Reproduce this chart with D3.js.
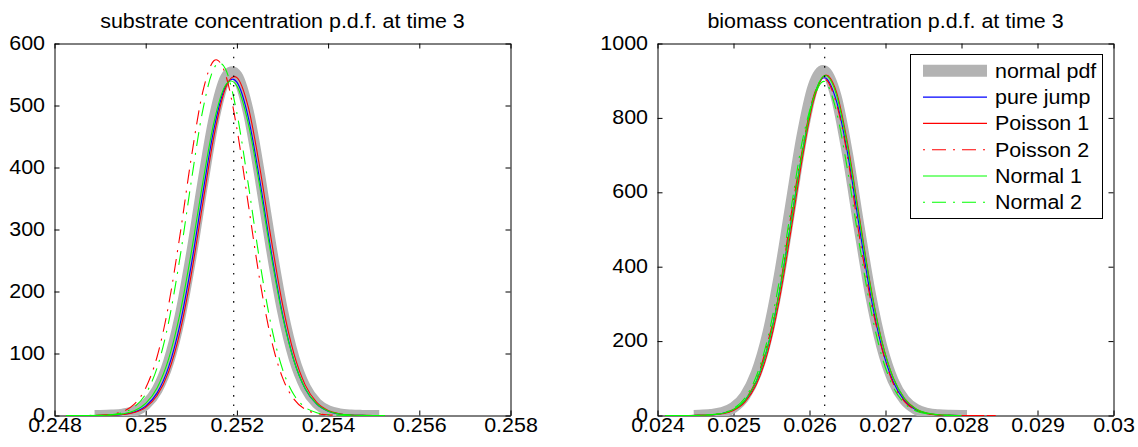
<!DOCTYPE html>
<html>
<head>
<meta charset="utf-8">
<script src="https://cdn.jsdelivr.net/npm/d3@7"></script>
<style>
  html, body { margin: 0; padding: 0; background: #fff; }
  svg { display: block; }
  text { font-family: "Liberation Sans", Arial, Helvetica, sans-serif; font-size: 19.5px; fill: #000; }
</style>
</head>
<body>
<svg id="chart" width="1138" height="447"></svg>
<script>
// ---- substrate concentration: density estimates at time 3 ----
const subX = [0.24825, 0.2485, 0.24875, 0.249, 0.24925, 0.2495, 0.24975, 0.25, 0.25025, 0.2505,
  0.25075, 0.251, 0.25125, 0.2515, 0.25175, 0.252, 0.25225, 0.2525, 0.25275, 0.253,
  0.25325, 0.2535, 0.25375, 0.254, 0.25425, 0.2545, 0.25475, 0.255, 0.25525];
const subNormalPdf = [null, null, null, 0.2, 0.7, 2.2, 6.7, 17.7, 41.5, 86.0, 158.5, 258.5, 373.9, 479.3,
  544.6, 548.6, 489.8, 387.6, 272.0, 169.1, 93.2, 45.6, 19.7, 7.6, 2.6, 0.8, 0.2, 0.0, null];
const subPureJump = [null, 0, 0, 0.1, 0.5, 1.8, 5.5, 15.1, 36.5, 77.7, 146.2, 243.0, 357.1, 463.3,
  531.0, 537.6, 480.9, 380.0, 265.2, 163.5, 89.1, 42.8, 18.2, 6.8, 2.3, 0.7, 0.2, 0, null];
const subPoisson1 = [null, null, 0, 0.1, 0.4, 1.5, 4.7, 13.1, 32.2, 69.9, 134.2, 227.7, 341.1, 451.4,
  527.7, 545.0, 497.3, 400.8, 285.3, 179.5, 99.7, 49.0, 21.2, 8.1, 2.8, 0.8, 0.2, 0, 0];
const subPoisson2 = [0, 0, 0.1, 0.6, 2.0, 6.5, 18.2, 44.4, 94.8, 177.3, 290.2, 415.8, 521.5, 572.5,
  550.1, 462.6, 340.6, 219.4, 123.7, 61.1, 26.4, 10.0, 3.3, 1.0, 0.2, null, null, null, null];
const subNormal1 = [0, 0, 0, 0.2, 0.8, 2.6, 7.5, 19.4, 44.5, 90.6, 163.7, 262.9, 374.7, 474.1,
  532.6, 531.4, 470.7, 370.2, 258.5, 160.2, 88.3, 43.1, 18.7, 7.2, 2.5, 0.8, 0.2, 0, 0];
const subNormal2 = [null, 0, 0.1, 0.4, 1.4, 4.7, 13.7, 34.7, 77.0, 149.5, 254.0, 377.8, 491.8, 560.4,
  558.9, 487.8, 372.8, 249.3, 145.9, 74.7, 33.5, 13.1, 4.5, 1.4, 0.4, 0.1, null, null, null];
const subMean = 0.25193;

// ---- biomass concentration: density estimates at time 3 ----
const bioX = [0.0241, 0.02425, 0.0244, 0.02455, 0.0247, 0.02485, 0.025, 0.02515, 0.0253, 0.02545,
  0.0256, 0.02575, 0.0259, 0.02605, 0.0262, 0.02635, 0.0265, 0.02665, 0.0268, 0.02695,
  0.0271, 0.02725, 0.0274, 0.02755, 0.0277, 0.02785, 0.028, 0.02815, 0.0283, 0.02845, 0.0286];
const bioNormalPdf = [null, null, null, 0.7, 2.5, 7.8, 21.5, 52.6, 114.2, 219.4, 373.1, 562.3, 749.9,
  885.6, 926.0, 857.4, 702.8, 510.1, 327.8, 186.6, 93.9, 41.9, 16.6, 5.8, 1.8, 0.5, 0.1,
  null, null, null, null];
const bioPureJump = [null, 0, 0.1, 0.4, 1.5, 5.2, 15.3, 39.9, 91.4, 184.4, 327.3, 511.5, 699.8,
  851.9, 908.0, 848.5, 706.1, 514.0, 327.3, 184.4, 91.4, 39.9, 15.3, 5.2, 1.5, 0.4, 0.1, 0,
  null, null, null];
const bioPoisson1 = [null, null, 0, 0.3, 1.3, 4.5, 13.5, 35.7, 83.1, 170.4, 307.6, 489.3, 684.4,
  843.1, 914.0, 872.2, 732.6, 541.8, 352.6, 202.0, 101.9, 45.2, 17.7, 6.1, 1.8, 0.5, 0.1, 0, 0,
  null, null];
const bioPoisson2 = [0, 0, 0.1, 0.4, 1.7, 5.6, 16.3, 42.2, 95.9, 196.0, 330.0, 530.0, 708.0,
  856.0, 904.7, 841.6, 697.0, 490.0, 315.2, 182.0, 86.5, 37.4, 14.3, 4.8, 1.4, 0.4, 0.1, 0, 0, 0,
  null];
const bioNormal1 = [0, 0, 0.1, 0.4, 1.7, 5.5, 15.9, 40.8, 92.4, 184.7, 326.3, 508.9, 700.8,
  851.5, 913.7, 865.7, 724.2, 535.0, 348.7, 200.7, 102.0, 45.8, 18.1, 6.3, 2.0, 0.5, 0.1,
  null, null, null, null];
const bioNormal2 = [null, 0, 0.1, 0.5, 2.0, 6.4, 18.6, 47.1, 105.4, 207.2, 358.3, 545.9, 732.0,
  850.0, 897.7, 821.1, 660.9, 468.4, 292.2, 160.5, 77.6, 33.0, 12.4, 4.1, 1.2, 0.3, 0.1,
  null, null, null, null];
const bioMean = 0.0262;

// ---- axis ticks and labels ----
const subXTicks = [0.248, 0.25, 0.252, 0.254, 0.256, 0.258];
const subXTickLabels = ["0.248", "0.25", "0.252", "0.254", "0.256", "0.258"];
const subYTicks = [0, 100, 200, 300, 400, 500, 600];
const subYTickLabels = ["0", "100", "200", "300", "400", "500", "600"];
const bioXTicks = [0.024, 0.025, 0.026, 0.027, 0.028, 0.029, 0.03];
const bioXTickLabels = ["0.024", "0.025", "0.026", "0.027", "0.028", "0.029", "0.03"];
const bioYTicks = [0, 200, 400, 600, 800, 1000];
const bioYTickLabels = ["0", "200", "400", "600", "800", "1000"];

const seriesNames = ["normal pdf", "pure jump", "Poisson 1", "Poisson 2", "Normal 1", "Normal 2"];

// ---- styling ----
const TEXT_SX = 1.1;            // horizontal stretch of the Helvetica-like text
const DASH_DOT = "14,7,2,7";
const seriesStyle = [
  { color: "#b3b3b3", width: 11, dash: null, cap: "square" },
  { color: "#0000ff", width: 1.1, dash: null, cap: "butt" },
  { color: "#ff0000", width: 1.1, dash: null, cap: "butt" },
  { color: "#ff0000", width: 1.1, dash: DASH_DOT, cap: "butt" },
  { color: "#00ff00", width: 1.1, dash: null, cap: "butt" },
  { color: "#00ff00", width: 1.1, dash: DASH_DOT, cap: "butt" }
];

const svg = d3.select("#chart");
const defs = svg.append("defs");

function stretchText(sel, dx, dy) {
  sel.attr("x", 0).attr("y", 0).attr("dy", null)
     .attr("transform", `translate(${dx},${dy}) scale(${TEXT_SX},1)`);
}

function drawPanel(cfg) {
  const { left, right, top, bottom } = cfg.box;
  const x = d3.scaleLinear().domain(cfg.xDomain).range([left + 0.5, right + 0.5]);
  const y = d3.scaleLinear().domain(cfg.yDomain).range([bottom + 0.5, top + 0.5]);
  const g = svg.append("g");

  // title
  g.append("text")
    .attr("text-anchor", "middle")
    .attr("transform", `translate(${(left + right) / 2 + 0.5},27.5) scale(${TEXT_SX},1)`)
    .text(cfg.title);

  const xFmt = d => cfg.xLabels[cfg.xTicks.indexOf(d)];
  const yFmt = d => cfg.yLabels[cfg.yTicks.indexOf(d)];

  // box axes with inward ticks on all four sides
  const ax = [
    g.append("g").attr("transform", `translate(0,${bottom + 0.5})`)
      .call(d3.axisBottom(x).tickValues(cfg.xTicks).tickSize(-5).tickSizeOuter(0).tickFormat(xFmt)),
    g.append("g").attr("transform", `translate(0,${top + 0.5})`)
      .call(d3.axisTop(x).tickValues(cfg.xTicks).tickSize(-5).tickSizeOuter(0).tickFormat(() => "")),
    g.append("g").attr("transform", `translate(${left + 0.5},0)`)
      .call(d3.axisLeft(y).tickValues(cfg.yTicks).tickSize(-5).tickSizeOuter(0).tickFormat(yFmt)),
    g.append("g").attr("transform", `translate(${right + 0.5},0)`)
      .call(d3.axisRight(y).tickValues(cfg.yTicks).tickSize(-5).tickSizeOuter(0).tickFormat(() => ""))
  ];
  ax.forEach(a => {
    a.attr("font-size", null).attr("font-family", null);
    a.selectAll("path.domain").attr("stroke", "#000").attr("stroke-width", 1);
    a.selectAll(".tick line").attr("stroke", "#000").attr("stroke-width", 1);
  });
  ax[0].selectAll(".tick text").call(stretchText, 0, 16.5);
  ax[2].selectAll(".tick text").attr("text-anchor", "end").call(stretchText, -9.5, 5.5);

  // curves
  const clipId = "clip-" + cfg.id;
  defs.append("clipPath").attr("id", clipId)
    .append("rect").attr("x", left + 0.5).attr("y", top + 0.5)
    .attr("width", right - left).attr("height", bottom - top + 0.5);

  const line = d3.line()
    .defined(d => d[1] != null)
    .x(d => x(d[0]))
    .y(d => y(d[1]))
    .curve(d3.curveCardinal.tension(0));

  const plot = g.append("g").attr("clip-path", `url(#${clipId})`);
  cfg.series.forEach((vals, i) => {
    const st = seriesStyle[i];
    const pts = cfg.xs.map((xv, j) => [xv, vals[j]]);
    plot.append("path")
      .attr("d", line(pts))
      .attr("fill", "none")
      .attr("stroke", st.color)
      .attr("stroke-width", st.width)
      .attr("stroke-linecap", st.cap)
      .attr("stroke-linejoin", "round")
      .attr("stroke-dasharray", st.dash);
  });

  // dotted marker at the mean
  plot.append("line")
    .attr("x1", x(cfg.mean)).attr("x2", x(cfg.mean))
    .attr("y1", y(cfg.yDomain[0])).attr("y2", y(cfg.yDomain[1]))
    .attr("stroke", "#000").attr("stroke-width", 1.2)
    .attr("stroke-dasharray", "1.6,7.8");

  return { g, x, y };
}

drawPanel({
  id: "sub",
  box: { left: 54, right: 510, top: 43, bottom: 415 },
  xDomain: [0.248, 0.258], yDomain: [0, 600],
  xTicks: subXTicks, xLabels: subXTickLabels,
  yTicks: subYTicks, yLabels: subYTickLabels,
  title: "substrate concentration p.d.f. at time 3",
  xs: subX,
  series: [subNormalPdf, subPureJump, subPoisson1, subPoisson2, subNormal1, subNormal2],
  mean: subMean
});

drawPanel({
  id: "bio",
  box: { left: 657, right: 1113, top: 43, bottom: 415 },
  xDomain: [0.024, 0.03], yDomain: [0, 1000],
  xTicks: bioXTicks, xLabels: bioXTickLabels,
  yTicks: bioYTicks, yLabels: bioYTickLabels,
  title: "biomass concentration p.d.f. at time 3",
  xs: bioX,
  series: [bioNormalPdf, bioPureJump, bioPoisson1, bioPoisson2, bioNormal1, bioNormal2],
  mean: bioMean
});

// legend
const lg = svg.append("g");
lg.append("rect")
  .attr("x", 910.5).attr("y", 54.5).attr("width", 192).attr("height", 164)
  .attr("fill", "#fff").attr("stroke", "#000").attr("stroke-width", 1);
seriesNames.forEach((name, i) => {
  const st = seriesStyle[i];
  const ry = 70.8 + i * 26.3;
  lg.append("line")
    .attr("x1", 923).attr("x2", 987).attr("y1", ry).attr("y2", ry)
    .attr("stroke", st.color)
    .attr("stroke-width", i === 0 ? 12 : st.width)
    .attr("stroke-dasharray", st.dash ? "2,7,14,7" : null);
  lg.append("text")
    .attr("transform", `translate(995,${ry + 6.8}) scale(${TEXT_SX},1)`)
    .text(name);
});
</script>
</body>
</html>
